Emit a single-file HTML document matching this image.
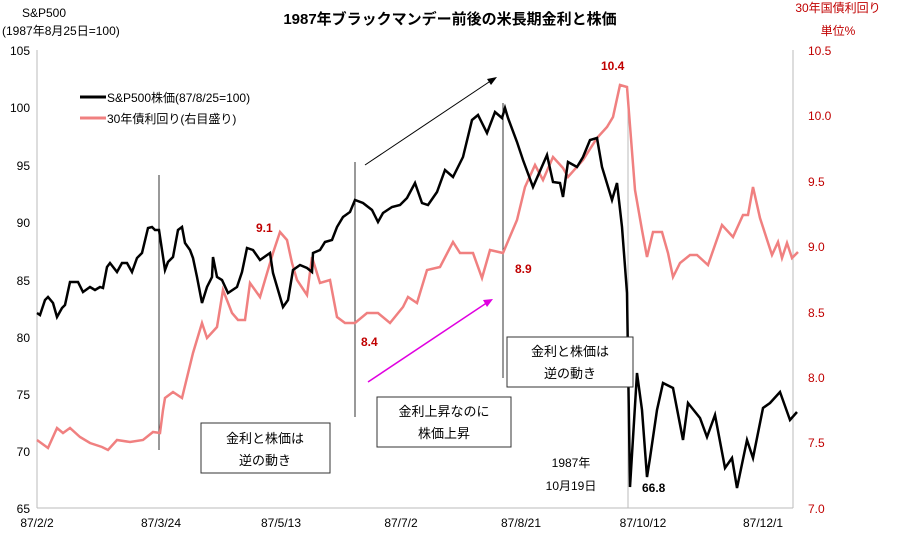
<!DOCTYPE html>
<html><head><meta charset="utf-8"><style>
body{margin:0;background:#fff}
svg text{font-family:"Liberation Sans","Noto Sans CJK JP",sans-serif}
</style></head><body>
<svg width="900" height="549" viewBox="0 0 900 549" xmlns="http://www.w3.org/2000/svg">
<rect width="900" height="549" fill="#fff"/>
<text x="450" y="24" font-size="15" text-anchor="middle" font-weight="bold">1987年ブラックマンデー前後の米長期金利と株価</text>
<text x="22" y="17" font-size="12">S&amp;P500</text>
<text x="2" y="35" font-size="12">(1987年8月25日=100)</text>
<text x="838" y="12" font-size="12" fill="#c00000" text-anchor="middle">30年国債利回り</text>
<text x="838" y="35" font-size="12" fill="#c00000" text-anchor="middle">単位%</text>
<line x1="37" y1="50" x2="37" y2="508" stroke="#bbb"/>
<line x1="793" y1="50" x2="793" y2="508" stroke="#bbb"/>
<line x1="37" y1="508" x2="793" y2="508" stroke="#bbb"/>
<g font-size="12" text-anchor="end">
<text x="30" y="55">105</text><text x="30" y="112">100</text><text x="30" y="170">95</text><text x="30" y="227">90</text><text x="30" y="285">85</text><text x="30" y="342">80</text><text x="30" y="399">75</text><text x="30" y="456">70</text><text x="30" y="513">65</text>
</g>
<g font-size="12" fill="#c00000">
<text x="808" y="55">10.5</text><text x="808" y="120">10.0</text><text x="808" y="186">9.5</text><text x="808" y="251">9.0</text><text x="808" y="317">8.5</text><text x="808" y="382">8.0</text><text x="808" y="447">7.5</text><text x="808" y="513">7.0</text>
</g>
<g font-size="12" text-anchor="middle">
<text x="37" y="527">87/2/2</text><text x="161" y="527">87/3/24</text><text x="281" y="527">87/5/13</text><text x="401" y="527">87/7/2</text><text x="521" y="527">87/8/21</text><text x="643" y="527">87/10/12</text><text x="763" y="527">87/12/1</text>
</g>
<g stroke="#333" stroke-width="1">
<line x1="159" y1="175" x2="159" y2="450"/>
<line x1="355" y1="162" x2="355" y2="417"/>
<line x1="503" y1="103" x2="503" y2="378"/>
<line x1="628" y1="90" x2="628" y2="508" stroke="#bbb"/>
</g>
<line x1="365" y1="165" x2="492" y2="80" stroke="#000"/>
<polygon points="497,77 487,79 491,85" fill="#000"/>
<line x1="368" y1="382" x2="488" y2="302" stroke="#e000e0" stroke-width="1.5"/>
<polygon points="493,299 483,300 487,307" fill="#e000e0"/>
<polyline fill="none" stroke="#f08080" stroke-width="2.5" points="37,440 48,448 57,428 63,433 70,428 80,437 90,443 102,447 108,450 117,440 130,442 143,440 153,432 160,433 163,410 165,398 173,392 182,398 193,353 202,323 207,338 217,327 223,290 232,313 238,320 245,320 250,283 260,297 265,280 273,253 280,232 287,240 292,263 297,280 307,295 312,257 320,283 330,280 337,317 345,323 355,323 367,313 378,313 390,323 403,307 408,297 417,303 420,293 427,270 440,267 453,242 460,253 473,253 482,278 490,250 503,253 517,220 525,187 535,165 543,180 553,157 563,168 568,177 583,160 597,138 607,127 613,117 620,85 627,87 635,190 642,230 647,257 653,232 662,232 668,253 673,277 680,263 690,255 697,255 708,265 722,225 733,237 743,215 748,215 753,187 760,218 772,255 778,242 782,258 787,243 792,258 798,252"/>
<polyline fill="none" stroke="#000" stroke-width="2.5" points="37,313 40,315 45,300 48,297 53,303 57,317 62,308 65,305 70,282 78,282 83,292 90,287 95,290 100,287 103,288 107,267 110,263 117,272 122,263 127,263 132,272 137,258 142,253 148,228 152,227 155,230 159,230 162,250 165,270 168,262 173,257 178,230 182,227 185,243 190,250 193,258 197,277 202,303 207,287 212,277 213,257 217,277 222,280 228,293 237,287 242,272 247,248 253,250 260,260 270,253 273,273 278,290 283,307 288,300 293,270 300,265 307,268 312,272 313,253 320,250 325,242 332,240 337,227 343,217 350,212 355,200 363,203 372,210 378,222 383,213 392,207 400,205 407,198 415,183 422,203 428,205 437,192 445,170 453,177 463,157 472,120 478,115 487,133 495,112 502,118 505,108 508,118 517,142 523,160 533,187 547,155 553,182 560,183 563,197 568,162 577,167 583,157 590,140 597,138 602,167 612,200 617,183 622,227 627,293 630,487 637,373 642,410 647,477 650,458 657,410 663,383 673,388 683,440 688,403 700,418 707,437 715,415 725,468 732,458 737,488 747,440 753,458 763,408 770,403 780,392 790,420 797,412"/>
<line x1="80" y1="97" x2="106" y2="97" stroke="#000" stroke-width="3"/>
<text x="107" y="102" font-size="12">S&amp;P500株価(87/8/25=100)</text>
<line x1="80" y1="118" x2="106" y2="118" stroke="#f08080" stroke-width="3"/>
<text x="107" y="123" font-size="12">30年債利回り(右目盛り)</text>
<g font-size="12" font-weight="bold" fill="#c00000">
<text x="256" y="232">9.1</text><text x="361" y="346">8.4</text><text x="515" y="273">8.9</text><text x="601" y="70">10.4</text>
</g>
<text x="642" y="492" font-size="12" font-weight="bold">66.8</text>
<text x="571" y="467" font-size="12" text-anchor="middle">1987年</text>
<text x="571" y="490" font-size="12" text-anchor="middle">10月19日</text>
<g fill="#fff" stroke="#333">
<rect x="201" y="423" width="129" height="50"/>
<rect x="377" y="397" width="134" height="50"/>
<rect x="507" y="337" width="126" height="50"/>
</g>
<g font-size="13" text-anchor="middle">
<text x="265" y="443">金利と株価は</text><text x="265" y="465">逆の動き</text>
<text x="444" y="416">金利上昇なのに</text><text x="444" y="438">株価上昇</text>
<text x="570" y="356">金利と株価は</text><text x="570" y="378">逆の動き</text>
</g>
</svg>
</body></html>
